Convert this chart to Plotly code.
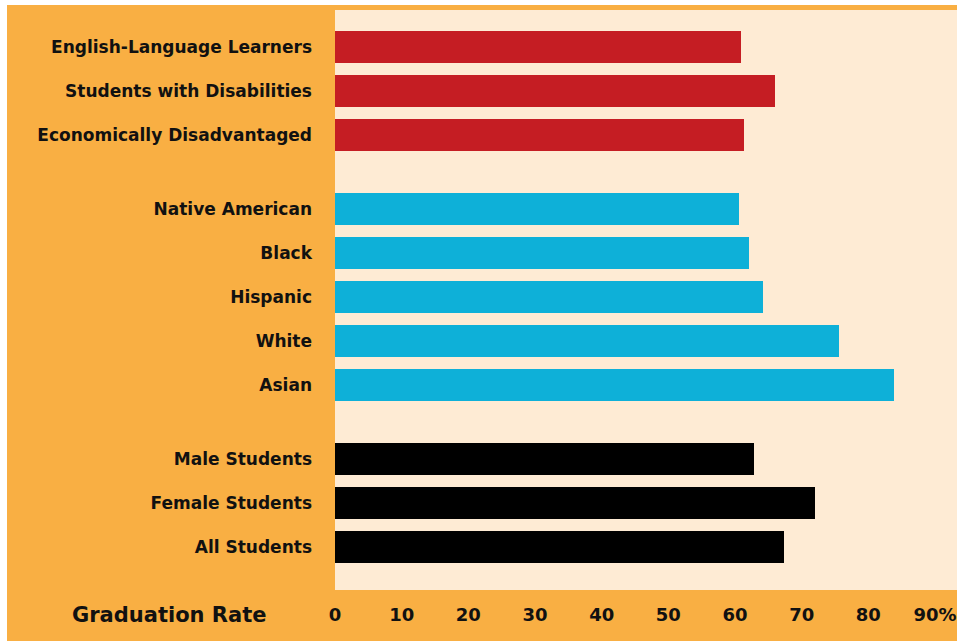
import plotly.graph_objects as go

# ---- data ----
need_labels = ["English-Language Learners", "Students with Disabilities", "Economically Disadvantaged"]
need_values = [60.9, 66.0, 61.3]
race_labels = ["Native American", "Black", "Hispanic", "White", "Asian"]
race_values = [60.6, 62.1, 64.2, 75.6, 83.9]
gender_labels = ["Male Students", "Female Students", "All Students"]
gender_values = [62.9, 72.0, 67.4]
x_ticks = [0, 10, 20, 30, 40, 50, 60, 70, 80, 90]
x_tick_text = ["0", "10", "20", "30", "40", "50", "60", "70", "80", "90%"]

ORANGE = "#F9AF43"
CREAM = "#FEEBD4"
RED = "#C51D23"
BLUE = "#0EB0D8"
BLACK = "#000000"
TXT = "#111111"
FONT = "DejaVu Sans"

# positions: groups separated by an extra gap
group_gap = 0.68
groups = [(need_labels, need_values, RED), (race_labels, race_values, BLUE), (gender_labels, gender_values, BLACK)]

fig = go.Figure()
pos = 0.0
all_pos, all_lab = [], []
for gi, (labs, vals, col) in enumerate(groups):
    if gi > 0:
        pos += group_gap
    ys = []
    for lab in labs:
        ys.append(pos)
        all_pos.append(pos)
        all_lab.append(lab)
        pos += 1
    fig.add_trace(go.Bar(x=vals, y=ys, orientation="h", marker=dict(color=col, line=dict(width=0)),
                         width=0.727, hoverinfo="x+text", text=labs, textposition="none"))

W, H = 957, 641
ml, mr, mt, mb = 335, 0, 10, 51
pw, ph = W - ml - mr, H - mt - mb

fig.update_layout(
    width=W, height=H,
    margin=dict(l=ml, r=mr, t=mt, b=mb, pad=0),
    paper_bgcolor="white",
    plot_bgcolor="rgba(0,0,0,0)",
    showlegend=False,
    bargap=0,
    font=dict(family=FONT, color=TXT),
    shapes=[
        dict(type="rect", xref="paper", yref="paper", layer="below",
             x0=(7 - ml) / pw, x1=1.0, y0=-mb / ph, y1=1 + (mt - 5) / ph,
             fillcolor=ORANGE, line=dict(width=0)),
        dict(type="rect", xref="paper", yref="paper", layer="below",
             x0=0, x1=1, y0=0, y1=1, fillcolor=CREAM, line=dict(width=0)),
    ],
    annotations=[
        dict(text="Graduation Rate", xref="paper", yref="paper",
             x=(169 - ml) / pw, y=-(615 - (H - mb)) / ph, xanchor="center", yanchor="middle",
             showarrow=False, font=dict(size=21, family=FONT, weight="bold", color=TXT)),
    ],
)
fig.update_xaxes(range=[0, 93.3], tickvals=x_ticks, ticktext=x_tick_text, showgrid=False,
                 zeroline=False, showline=False, ticks="", ticklabelstandoff=12,
                 ticklabeloverflow="allow",
                 tickfont=dict(size=18, family=FONT, weight="bold", color=TXT), fixedrange=True)
fig.update_yaxes(range=[12.34, -0.84], tickvals=all_pos, ticktext=all_lab, showgrid=False,
                 zeroline=False, showline=False, ticks="", ticklabelstandoff=22,
                 tickfont=dict(size=17, family=FONT, weight="bold", color=TXT), fixedrange=True)

fig.write_html("out.html", config={"displayModeBar": False},
               post_script="document.body.style.margin='0';document.body.style.overflow='hidden';")
